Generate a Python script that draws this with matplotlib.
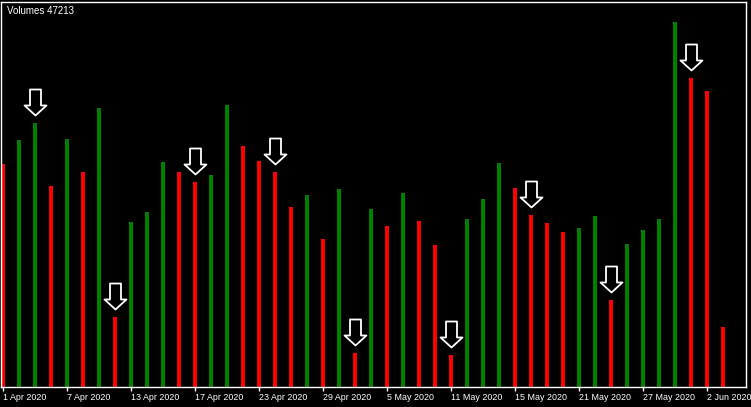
import numpy as np
import matplotlib.pyplot as plt
from matplotlib.path import Path
from matplotlib.transforms import offset_copy

# tick volumes per daily bar, 1 Apr 2020 .. 3 Jun 2020 (weekdays)
volumes = [175500, 194400, 207800, 158200, 195200, 169200, 219600, 55100,
           129900, 137700, 177100, 169200, 161300, 166800, 221900, 189700,
           177900, 169200, 141700, 151100, 116500, 155800, 26800, 140100,
           126700, 152700, 130600, 111800, 25200, 132200, 148000, 176300,
           156600, 135400, 129100, 122000, 125100, 134600, 68500, 112500,
           123600, 132200, 287300, 243200, 233000, 47213]

# bars marked with a down arrow
arrow_bars = [2, 7, 12, 17, 22, 28, 33, 38, 43]

tick_pos = [0, 4, 8, 12, 16, 20, 24, 28, 32, 36, 40, 44]
tick_labels = ['1 Apr 2020', '7 Apr 2020', '13 Apr 2020', '17 Apr 2020',
               '23 Apr 2020', '29 Apr 2020', '5 May 2020', '11 May 2020',
               '15 May 2020', '21 May 2020', '27 May 2020', '2 Jun 2020']

vol = np.array(volumes)
x = np.arange(len(vol))
# green when volume rises vs previous bar, red otherwise
cores = ['#ff0000'] + ['#008000' if vol[i] > vol[i - 1] else '#ff0000' for i in range(1, len(vol))]

plt.rcParams['font.family'] = ['Liberation Sans', 'DejaVu Sans']

fig = plt.figure(figsize=(7.51, 4.07), dpi=100, facecolor='black')
ax = fig.add_axes([1/751, 20/407, 745/751, 385/407], facecolor='black')

ax.vlines(x, 0, vol, colors=cores, linewidth=1.45, antialiased=False)

# arrow marker (outline, pointing down)
verts = [(-5.5, 13), (5.5, 13), (5.5, -3), (11, -3), (0, -13), (-11, -3), (-5.5, -3), (-5.5, 13)]
codes = [Path.MOVETO] + [Path.LINETO] * 6 + [Path.CLOSEPOLY]
seta = Path(verts, codes)
trans = offset_copy(ax.transData, fig=fig, y=21, units='dots')
ax.plot(arrow_bars, vol[arrow_bars], linestyle='none', marker=seta, markersize=18.7,
        markerfacecolor='black', markeredgecolor='white', markeredgewidth=1.3,
        transform=trans, clip_on=False)

ax.set_xlim(-1.6/16, 46.45)
ax.set_ylim(0, 385 * 787)

for s in ax.spines.values():
    s.set_color('white')
    s.set_linewidth(1)

ax.set_yticks([])
ax.set_xticks(tick_pos)
ax.set_xticklabels(tick_labels)
ax.tick_params(axis='x', colors='white', length=3, width=1, pad=1.5, labelsize=6.4)
for lb in ax.get_xticklabels():
    lb.set_horizontalalignment('left')

fig.text(7/751, 1 - 6/407, f'Volumes {volumes[-1]}', color='white', fontsize=7, va='top', ha='left')

fig.savefig('out.png', dpi=100, facecolor='black')
